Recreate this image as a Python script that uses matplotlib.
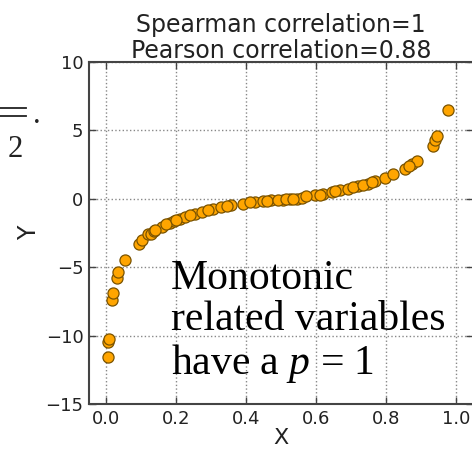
import matplotlib
matplotlib.use("Agg")
import matplotlib.pyplot as plt
from matplotlib.lines import Line2D
import numpy as np

# Data
x_vals = [0.003, 0.004, 0.006, 0.015, 0.018, 0.030, 0.034, 0.052, 0.092, 0.101,
          0.120, 0.128, 0.135, 0.158, 0.183, 0.192, 0.211, 0.226, 0.254, 0.273,
          0.305, 0.329, 0.357, 0.391, 0.424, 0.448, 0.472, 0.505, 0.524, 0.544,
          0.558, 0.596, 0.620, 0.644, 0.668, 0.691, 0.720, 0.749, 0.768, 0.797,
          0.820, 0.854, 0.873, 0.887, 0.935, 0.940, 0.945, 0.978,
          0.140, 0.170, 0.200, 0.240, 0.290, 0.345, 0.410, 0.460, 0.490, 0.515,
          0.535, 0.570, 0.610, 0.655, 0.705, 0.735, 0.760, 0.865]
y_vals = [-11.59, -10.49, -10.24, -7.38, -6.85, -5.80, -5.33, -4.51, -3.28, -3.04,
          -2.60, -2.55, -2.38, -2.07, -1.77, -1.65, -1.45, -1.33, -1.08, -0.97,
          -0.73, -0.60, -0.48, -0.35, -0.23, -0.16, -0.11, -0.06, -0.04, 0.01,
          0.09, 0.26, 0.33, 0.50, 0.62, 0.75, 0.92, 1.11, 1.28, 1.52,
          1.79, 2.21, 2.51, 2.77, 3.85, 4.29, 4.58, 6.48,
          -2.30, -1.85, -1.52, -1.20, -0.85, -0.52, -0.27, -0.13, -0.08, -0.05,
          -0.02, 0.17, 0.30, 0.55, 0.83, 1.00, 1.20, 2.40]

title_lines = ["Spearman correlation=1", "Pearson correlation=0.88"]
note_lines = ["Monotonic", "related variables", r"have a $p$ = 1"]
x_ticks = [0.0, 0.2, 0.4, 0.6, 0.8, 1.0]
y_ticks = [-15, -10, -5, 0, 5, 10]

plt.rcParams['mathtext.fontset'] = 'custom'
plt.rcParams['mathtext.rm'] = 'Liberation Serif'
plt.rcParams['mathtext.it'] = 'Liberation Serif:italic'

fig = plt.figure(figsize=(4.72, 4.53), dpi=100)
ax = fig.add_axes([89 / 472, 49 / 453, 384.5 / 472, 342 / 453])

ax.scatter(x_vals, y_vals, s=64, facecolor='#FFA500', edgecolor='#7a5300',
           linewidth=0.9, zorder=3)

ax.set_xlim(-0.05, 1.05)
ax.set_ylim(-15, 10)
ax.set_xticks(x_ticks)
ax.set_yticks(y_ticks)
ax.set_xticklabels([f"{v:.1f}" for v in x_ticks])
ax.set_yticklabels([str(v).replace('-', '\u2212') for v in y_ticks])
ax.tick_params(direction='in', top=True, right=True, length=5, width=1,
               labelsize=13, labelcolor='#222222', color='#444444', pad=4)
ax.grid(True, color='#888888', linestyle=':', linewidth=1)
for sp in ax.spines.values():
    sp.set_color('#444444')
    sp.set_linewidth(1.5)

ax.set_title("\n".join(title_lines), fontsize=17, color='#222222', pad=3,
             linespacing=1.12)
ax.set_xlabel("X", fontsize=16, color='#222222', labelpad=0)
ax.set_ylabel("Y", fontsize=17, color='#222222', labelpad=3)

ax.text(0.213, 0.089, "\n".join(note_lines), transform=ax.transAxes,
        family='Liberation Serif', fontsize=30, color='black',
        ha='left', va='baseline', linespacing=1.08, zorder=4)

# fragment of a formula cut off at the left edge
fig.text(8 / 472, 1 - 157 / 453, "2", family='Liberation Serif', fontsize=22,
         color='#222222', ha='left', va='baseline')
fig.text(33 / 472, 1 - 123 / 453, ".", family='Liberation Serif', fontsize=22,
         color='#222222', ha='left', va='baseline')
for yy in (108, 116):
    fig.add_artist(Line2D([0, 26 / 472], [1 - yy / 453] * 2, color='#222222',
                          linewidth=1.3, transform=fig.transFigure))

fig.savefig("out.png", dpi=100)
